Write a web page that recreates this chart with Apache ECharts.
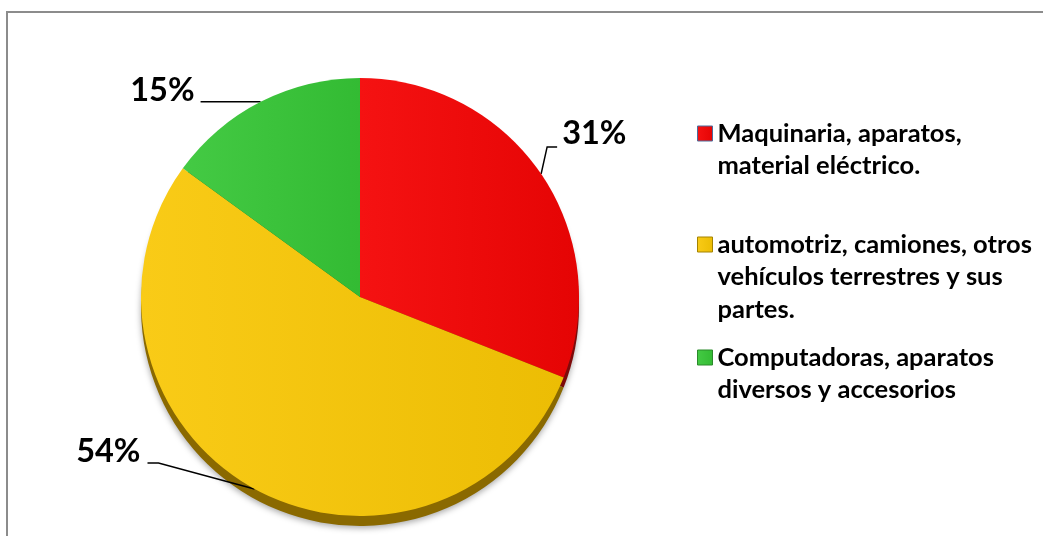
<!DOCTYPE html>
<html>
<head>
<meta charset="utf-8">
<title>Distribución por sector</title>
<script src="https://cdn.jsdelivr.net/npm/echarts@6/dist/echarts.min.js"></script>
<style>
  html, body { margin: 0; padding: 0; background: #ffffff; }
  #chart { width: 1043px; height: 536px; }
</style>
</head>
<body>
<div id="chart"></div>
<script>
// Sector names (legend text, already wrapped) and their shares in percent
const categories = [
  'Maquinaria, aparatos,\nmaterial eléctrico.',
  'automotriz, camiones, otros\nvehículos terrestres y sus\npartes.',
  'Computadoras, aparatos\ndiversos y accesorios'
];
const shares = [31, 54, 15];

// Face colours (left -> right shading), darker side-wall colours, legend key borders
const sliceColors = [['#F51212', '#E50404'], ['#F9CB17', '#ECBD04'], ['#44CA44', '#33BB33']];
const rimColors = ['#7E0A0A', '#8A6900', '#1F6A1F'];
const keyBorders = ['#4C6C9C', '#A48300', '#2B8A2B'];

const FONT = 'Lato, "Open Sans", sans-serif';
const LINE_H = 32.5;
const KEY = 15;

function faceGradient(i) {
  return new echarts.graphic.LinearGradient(0, 0, 1, 0, [
    { offset: 0, color: sliceColors[i][0] },
    { offset: 1, color: sliceColors[i][1] }
  ]);
}

// Legend key: a square level with the first text line; the two bare moveTo
// points stretch the icon box over the whole wrapped text block.
function keyPath(lines) {
  const h = lines * LINE_H;
  const a = LINE_H / 2 - KEY / 2;
  return 'path://M0,0 M' + KEY + ',' + h +
    ' M0,' + a + ' H' + KEY + ' V' + (a + KEY) + ' H0 Z';
}

// Where each percentage label sits relative to the point on its slice edge
const labelPlacement = [
  { bend: [6, -27], end: [16, -27], text: [21, -40], align: 'left' },
  { bend: [-96, -26], end: [-107, -26], text: [-114, -37], align: 'right' },
  { bend: [-30, 0], end: [-60, 0], text: [-66, -11], align: 'right' }
];

// Centre of the first text line of each legend entry
const firstLineCentres = [133, 244, 357];

const chart = echarts.init(document.getElementById('chart'), null, { renderer: 'canvas' });

const legends = categories.map(function (name, i) {
  const lines = name.split('\n').length;
  return {
    data: [{
      name: name,
      icon: keyPath(lines),
      itemStyle: { color: faceGradient(i), borderColor: keyBorders[i], borderWidth: 1 }
    }],
    orient: 'vertical',
    left: 697,
    top: firstLineCentres[i] - LINE_H / 2,
    padding: 0,
    itemWidth: KEY,
    itemHeight: lines * LINE_H,
    itemGap: 0,
    selectedMode: false,
    textStyle: {
      fontFamily: FONT,
      fontWeight: 'bold',
      fontSize: 25.5,
      lineHeight: LINE_H,
      color: '#000'
    }
  };
});

chart.setOption({
  animation: false,
  backgroundColor: '#ffffff',
  graphic: [{
    type: 'rect',
    silent: true,
    shape: { x: 7, y: 12, width: 1200, height: 700 },
    style: { fill: 'none', stroke: '#8c8c8c', lineWidth: 2 }
  }],
  legend: legends,
  series: [
    {
      // side wall of the disc, peeking out below the face
      type: 'pie',
      silent: true,
      z: 1,
      center: [360, 307],
      radius: 219,
      startAngle: 90,
      clockwise: true,
      label: { show: false },
      labelLine: { show: false },
      itemStyle: { shadowBlur: 6, shadowColor: 'rgba(0,0,0,0.35)', shadowOffsetY: 2 },
      data: shares.map(function (v, i) {
        return { name: categories[i], value: v, itemStyle: { color: rimColors[i] } };
      })
    },
    {
      type: 'pie',
      silent: true,
      z: 3,
      center: [360, 297],
      radius: 219,
      startAngle: 90,
      clockwise: true,
      itemStyle: { borderWidth: 0 },
      data: shares.map(function (v, i) {
        return { name: categories[i], value: v, itemStyle: { color: faceGradient(i) } };
      }),
      label: {
        show: true,
        position: 'outside',
        formatter: '{d}%',
        fontFamily: FONT,
        fontWeight: 'bold',
        fontSize: 32.5,
        color: '#000'
      },
      labelLine: { show: true, length: 10, length2: 10, lineStyle: { color: '#000', width: 1.5 } },
      labelLayout: function (p) {
        const e = p.labelLinePoints[0];
        const o = labelPlacement[p.dataIndex];
        return {
          x: e[0] + o.text[0],
          y: e[1] + o.text[1],
          align: o.align,
          verticalAlign: 'middle',
          labelLinePoints: [
            [e[0], e[1]],
            [e[0] + o.bend[0], e[1] + o.bend[1]],
            [e[0] + o.end[0], e[1] + o.end[1]]
          ]
        };
      }
    }
  ]
});
</script>
</body>
</html>
